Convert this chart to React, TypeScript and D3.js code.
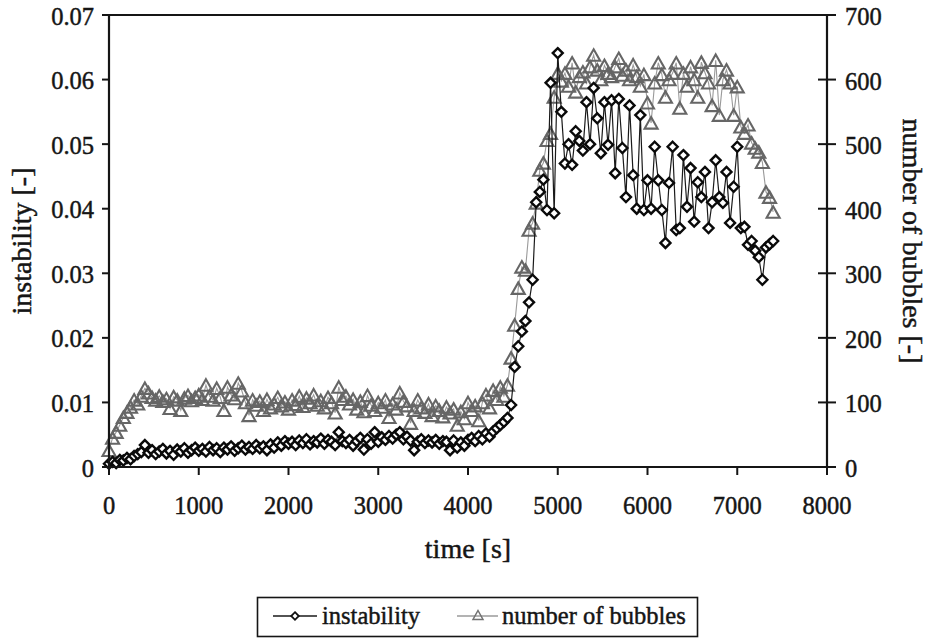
import React from "react";
import * as d3 from "d3";

// Sampling times [s]
const times = [
  0, 40, 80, 120, 160, 200, 240, 280, 320, 360,
  400, 440, 480, 520, 560, 600, 640, 680, 720, 760,
  800, 840, 880, 920, 960, 1000, 1040, 1080, 1120, 1160,
  1200, 1240, 1280, 1320, 1360, 1400, 1440, 1480, 1520, 1560,
  1600, 1640, 1680, 1720, 1760, 1800, 1840, 1880, 1920, 1960,
  2000, 2040, 2080, 2120, 2160, 2200, 2240, 2280, 2320, 2360,
  2400, 2440, 2480, 2520, 2560, 2600, 2640, 2680, 2720, 2760,
  2800, 2840, 2880, 2920, 2960, 3000, 3040, 3080, 3120, 3160,
  3200, 3240, 3280, 3320, 3360, 3400, 3440, 3480, 3520, 3560,
  3600, 3640, 3680, 3720, 3760, 3800, 3840, 3880, 3920, 3960,
  4000, 4040, 4080, 4120, 4160, 4200, 4240, 4280, 4320, 4360,
  4400, 4440, 4480, 4520, 4560, 4600, 4640, 4680, 4720, 4760,
  4800, 4840, 4880, 4920, 4960, 5000, 5040, 5080, 5120, 5160,
  5200, 5240, 5280, 5320, 5360, 5400, 5440, 5480, 5520, 5560,
  5600, 5640, 5680, 5720, 5760, 5800, 5840, 5880, 5920, 5960,
  6000, 6040, 6080, 6120, 6160, 6200, 6240, 6280, 6320, 6360,
  6400, 6440, 6480, 6520, 6560, 6600, 6640, 6680, 6720, 6760,
  6800, 6840, 6880, 6920, 6960, 7000, 7040, 7080, 7120, 7160,
  7200, 7240, 7280, 7320, 7360, 7400,
];

// Instability [-]
const instability = [
  0.0005, 0.0008, 0.0006, 0.0011, 0.0010, 0.0014, 0.0012, 0.0017, 0.0020, 0.0023,
  0.0034, 0.0022, 0.0026, 0.0020, 0.0024, 0.0028, 0.0021, 0.0025, 0.0019, 0.0027,
  0.0024, 0.0029, 0.0022, 0.0026, 0.0030, 0.0025, 0.0028, 0.0024, 0.0031, 0.0026,
  0.0029, 0.0023, 0.0030, 0.0027, 0.0032, 0.0025, 0.0029, 0.0033, 0.0027, 0.0031,
  0.0028, 0.0034, 0.0029, 0.0032, 0.0026, 0.0035, 0.0030, 0.0038, 0.0033, 0.0040,
  0.0036, 0.0039, 0.0034, 0.0041, 0.0037, 0.0043, 0.0035, 0.0040, 0.0038, 0.0044,
  0.0036, 0.0042, 0.0039, 0.0034, 0.0054, 0.0040, 0.0037, 0.0042, 0.0033, 0.0040,
  0.0045, 0.0027, 0.0043, 0.0036, 0.0054, 0.0039, 0.0046, 0.0042, 0.0048, 0.0044,
  0.0050, 0.0054, 0.0043, 0.0047, 0.0041, 0.0026, 0.0039, 0.0043, 0.0037, 0.0041,
  0.0038, 0.0042, 0.0036, 0.0040, 0.0039, 0.0026, 0.0041, 0.0030, 0.0038, 0.0033,
  0.0042, 0.0045, 0.0040, 0.0048, 0.0043, 0.0052, 0.0047, 0.0055, 0.0060, 0.0065,
  0.0070, 0.0076, 0.0096, 0.0155, 0.0187, 0.0210, 0.0226, 0.0255, 0.0290, 0.0410,
  0.0426, 0.0445, 0.0398, 0.0595, 0.0393, 0.0641, 0.0550, 0.0470, 0.0500, 0.0468,
  0.0520, 0.0505, 0.0490, 0.0565, 0.0500, 0.0587, 0.0540, 0.0486, 0.0565, 0.0499,
  0.0568, 0.0455, 0.0570, 0.0494, 0.0418, 0.0560, 0.0452, 0.0400, 0.0545, 0.0398,
  0.0444, 0.0400, 0.0496, 0.0444, 0.0398, 0.0347, 0.0440, 0.0496, 0.0367, 0.0370,
  0.0483, 0.0403, 0.0463, 0.0380, 0.0441, 0.0418, 0.0457, 0.0370, 0.0410, 0.0475,
  0.0418, 0.0409, 0.0457, 0.0378, 0.0434, 0.0496, 0.0370, 0.0372, 0.0344, 0.0350,
  0.0335, 0.0325, 0.0290, 0.0340, 0.0345, 0.0350,
];

// Number of bubbles [-]
const bubbles = [
  26, 45, 54, 65, 77, 85, 93, 104, 98, 110,
  122, 115, 108, 104, 110, 102, 106, 91, 109, 104,
  88, 107, 111, 103, 108, 112, 105, 127, 110, 104,
  122, 108, 88, 124, 112, 106, 130, 118, 100, 80,
  104, 96, 102, 88, 105, 92, 98, 108, 95, 101,
  90, 104, 97, 110, 94, 107, 100, 112, 96, 103,
  92, 108, 100, 84, 124, 105, 110, 98, 105, 90,
  102, 86, 111, 96, 88, 100, 93, 104, 77, 98,
  90, 115, 102, 95, 68, 88, 104, 92, 85, 98,
  80, 95, 88, 78, 93, 84, 90, 65, 86, 75,
  100, 88, 95, 72, 100, 112, 92, 119, 105, 124,
  110, 127, 169, 220, 277, 310, 305, 367, 378, 409,
  460, 471, 506, 517, 573, 610, 598, 610, 590, 626,
  581, 605, 612, 595, 620, 638, 615, 600, 622, 610,
  605, 620, 633, 607, 615, 600, 623, 605, 590, 608,
  564, 533, 595, 626, 608, 573, 600, 610, 626, 556,
  610, 590, 620, 600, 573, 627, 611, 595, 560, 630,
  545, 600, 615, 595, 545, 589, 527, 517, 530, 502,
  494, 488, 472, 426, 418, 395,
];

const xTicks = [0, 1000, 2000, 3000, 4000, 5000, 6000, 7000, 8000];
const leftTicks = [0, 0.01, 0.02, 0.03, 0.04, 0.05, 0.06, 0.07];
const rightTicks = [0, 100, 200, 300, 400, 500, 600, 700];

const W = 928;
const H = 638;
const FONT = "Liberation Serif, Tinos, Times New Roman, DejaVu Serif, serif";
const INK = "#151515";
// slightly heavier glyphs than plain regular weight
const textStyle: React.CSSProperties = {
  fontFamily: FONT,
  stroke: INK,
  strokeWidth: 0.45,
};

const diamondPath = (s: number) => `M0,${-s}L${s},0L0,${s}L${-s},0Z`;
const trianglePath = (w: number, h: number) =>
  `M0,${-h / 2}L${w / 2},${h / 2}L${-w / 2},${h / 2}Z`;

export default function App() {
  const x = d3.scaleLinear().domain([0, 8000]).range([109, 827]);
  const yL = d3.scaleLinear().domain([0, 0.07]).range([467, 15]);
  const yR = d3.scaleLinear().domain([0, 700]).range([467, 15]);

  const instPts = times.map((t, i) => [x(t), yL(instability[i])] as [number, number]);
  const bubPts = times.map((t, i) => [x(t), yR(bubbles[i])] as [number, number]);
  const line = d3.line();

  const fmtLeft = (v: number) => (v === 0 ? "0" : v.toFixed(2));

  const [x0, x1] = x.range();
  const [yBottom, yTop] = yL.range();

  return (
    <svg
      width={W}
      height={H}
      viewBox={`0 0 ${W} ${H}`}
      style={{ position: "absolute", left: 0, top: 0, background: "#fff", fontFamily: FONT }}
    >
      <rect width={W} height={H} fill="#fff" />

      {/* number of bubbles series (right axis) */}
      <path d={line(bubPts) ?? ""} fill="none" stroke="#9a9a9a" strokeWidth={1.1} />
      {bubPts.map(([px, py], i) => (
        <path
          key={`b${i}`}
          d={trianglePath(13, 11.5)}
          transform={`translate(${px},${py})`}
          fill="none"
          stroke="#666"
          strokeWidth={2.1}
        />
      ))}

      {/* instability series (left axis) */}
      <path d={line(instPts) ?? ""} fill="none" stroke="#1a1a1a" strokeWidth={1.2} />
      {instPts.map(([px, py], i) => (
        <path
          key={`s${i}`}
          d={diamondPath(5)}
          transform={`translate(${px},${py})`}
          fill="#fff"
          stroke="#0a0a0a"
          strokeWidth={2.4}
        />
      ))}

      {/* frame */}
      <line x1={x0} x2={x1} y1={yTop} y2={yTop} stroke={INK} strokeWidth={2} />
      <line x1={x0} x2={x1} y1={yBottom} y2={yBottom} stroke={INK} strokeWidth={2.2} />
      <line x1={x0} x2={x0} y1={yTop} y2={yBottom} stroke={INK} strokeWidth={2.2} />
      <line x1={x1} x2={x1} y1={yTop} y2={yBottom} stroke={INK} strokeWidth={2.2} />

      {/* x axis */}
      {xTicks.map((t) => (
        <g key={`xt${t}`}>
          <line x1={x(t)} x2={x(t)} y1={yBottom} y2={yBottom + 8} stroke={INK} strokeWidth={2} />
          <text x={x(t)} y={514} textAnchor="middle" fontSize={24.5} fill={INK} style={textStyle}>
            {t}
          </text>
        </g>
      ))}

      {/* left axis */}
      {leftTicks.map((v) => (
        <g key={`yl${v}`}>
          <line x1={x0 - 7} x2={x0} y1={yL(v)} y2={yL(v)} stroke={INK} strokeWidth={2} />
          <text x={94} y={yL(v) + 9.5} textAnchor="end" fontSize={24.5} fill={INK} style={textStyle}>
            {fmtLeft(v)}
          </text>
        </g>
      ))}

      {/* right axis */}
      {rightTicks.map((v) => (
        <g key={`yr${v}`}>
          <line x1={x1 - 9} x2={x1 + 9} y1={yR(v)} y2={yR(v)} stroke={INK} strokeWidth={2} />
          <text x={845} y={yR(v) + 10} textAnchor="start" fontSize={24.5} fill={INK} style={textStyle}>
            {v}
          </text>
        </g>
      ))}

      {/* axis titles */}
      <text x={468} y={558} textAnchor="middle" fontSize={28} fill={INK} style={textStyle}>
        time [s]
      </text>
      <text
        transform={`translate(31,${(yTop + yBottom) / 2}) rotate(-90)`}
        textAnchor="middle"
        fontSize={28}
        fill={INK}
        style={textStyle}
      >
        instability [-]
      </text>
      <text
        transform={`translate(903,${(yTop + yBottom) / 2}) rotate(90)`}
        textAnchor="middle"
        fontSize={28}
        fill={INK}
        style={textStyle}
      >
        number of bubbles [-]
      </text>

      {/* legend */}
      <rect x={257.5} y={597.5} width={440} height={39} fill="#fff" stroke={INK} strokeWidth={1.6} />
      <line x1={273} x2={317} y1={616} y2={616} stroke="#1a1a1a" strokeWidth={1.3} />
      <path d={diamondPath(3.8)} transform="translate(295,616)" fill="#fff" stroke="#111" strokeWidth={1.8} />
      <text x={322} y={624} fontSize={24.5} fill={INK} style={textStyle}>
        instability
      </text>
      <line x1={457} x2={498} y1={616} y2={616} stroke="#9a9a9a" strokeWidth={1.3} />
      <path d={trianglePath(10, 9)} transform="translate(478,615)" fill="none" stroke="#727272" strokeWidth={1.5} />
      <text x={502} y={624} fontSize={24.5} fill={INK} style={textStyle}>
        number of bubbles
      </text>
    </svg>
  );
}
